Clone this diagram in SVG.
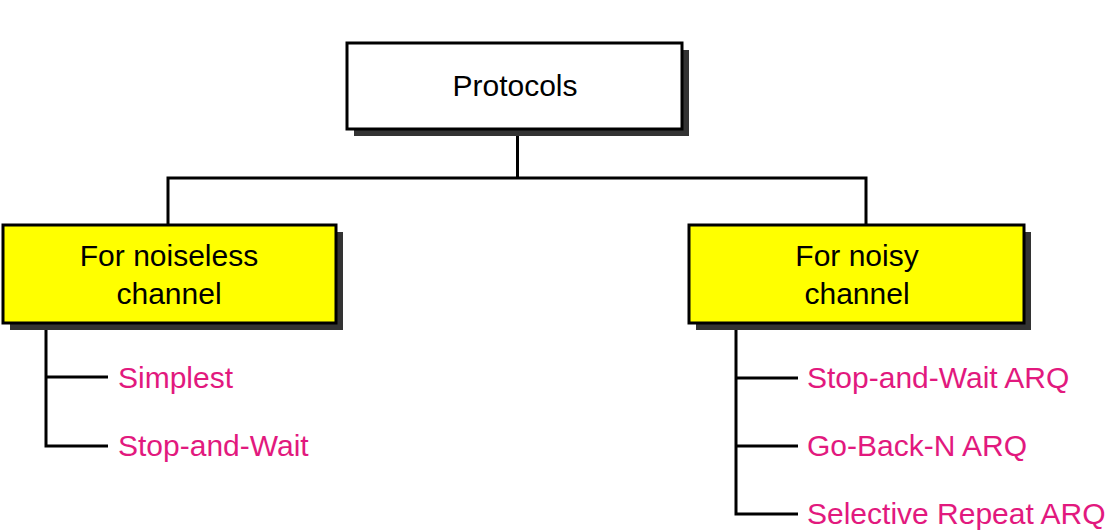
<svg xmlns="http://www.w3.org/2000/svg" width="1112" height="531" viewBox="0 0 1112 531">
<style>
.shadow{fill:#333333;}
.box{stroke:#000;stroke-width:3;}
.white{fill:#ffffff;}
.yellow{fill:#ffff00;}
.lbl{font-family:"Liberation Sans",Arial,sans-serif;font-size:30px;fill:#000;text-anchor:middle;}
.item{font-family:"Liberation Sans",Arial,sans-serif;font-size:30px;fill:#e2197e;}
.conn{fill:none;stroke:#000;stroke-width:3;}
</style>
<rect width="1112" height="531" fill="#ffffff"/>
<g id="connectors">
<path class="conn" d="M517.5 129 V178 M168 178 H866 M168 176.5 V225 M866 176.5 V225"/>
<path class="conn" d="M46 323 V446 H108 M46 377 H108"/>
<path class="conn" d="M736 323 V514 H798 M736 378 H798 M736 446 H798"/>
</g>
<g id="protocols">
<rect class="shadow" x="354" y="50" width="335" height="86"/>
<rect class="box white" x="347" y="43" width="335" height="86"/>
<text class="lbl" x="515" y="96">Protocols</text>
</g>
<g id="noiseless">
<rect class="shadow" x="10" y="232" width="333" height="98"/>
<rect class="box yellow" x="3" y="225" width="333" height="98"/>
<text class="lbl" x="169" y="266">For noiseless</text>
<text class="lbl" x="169" y="304">channel</text>
</g>
<g id="noisy">
<rect class="shadow" x="696" y="232" width="335" height="98"/>
<rect class="box yellow" x="689" y="225" width="335" height="98"/>
<text class="lbl" x="857" y="266">For noisy</text>
<text class="lbl" x="857" y="304">channel</text>
</g>
<g id="simplest"><text class="item" x="118" y="388">Simplest</text></g>
<g id="stop-and-wait"><text class="item" x="118" y="456">Stop-and-Wait</text></g>
<g id="stop-and-wait-arq"><text class="item" x="807" y="388">Stop-and-Wait ARQ</text></g>
<g id="go-back-n-arq"><text class="item" x="807" y="456">Go-Back-N ARQ</text></g>
<g id="selective-repeat-arq"><text class="item" x="807" y="524">Selective Repeat ARQ</text></g>
</svg>
